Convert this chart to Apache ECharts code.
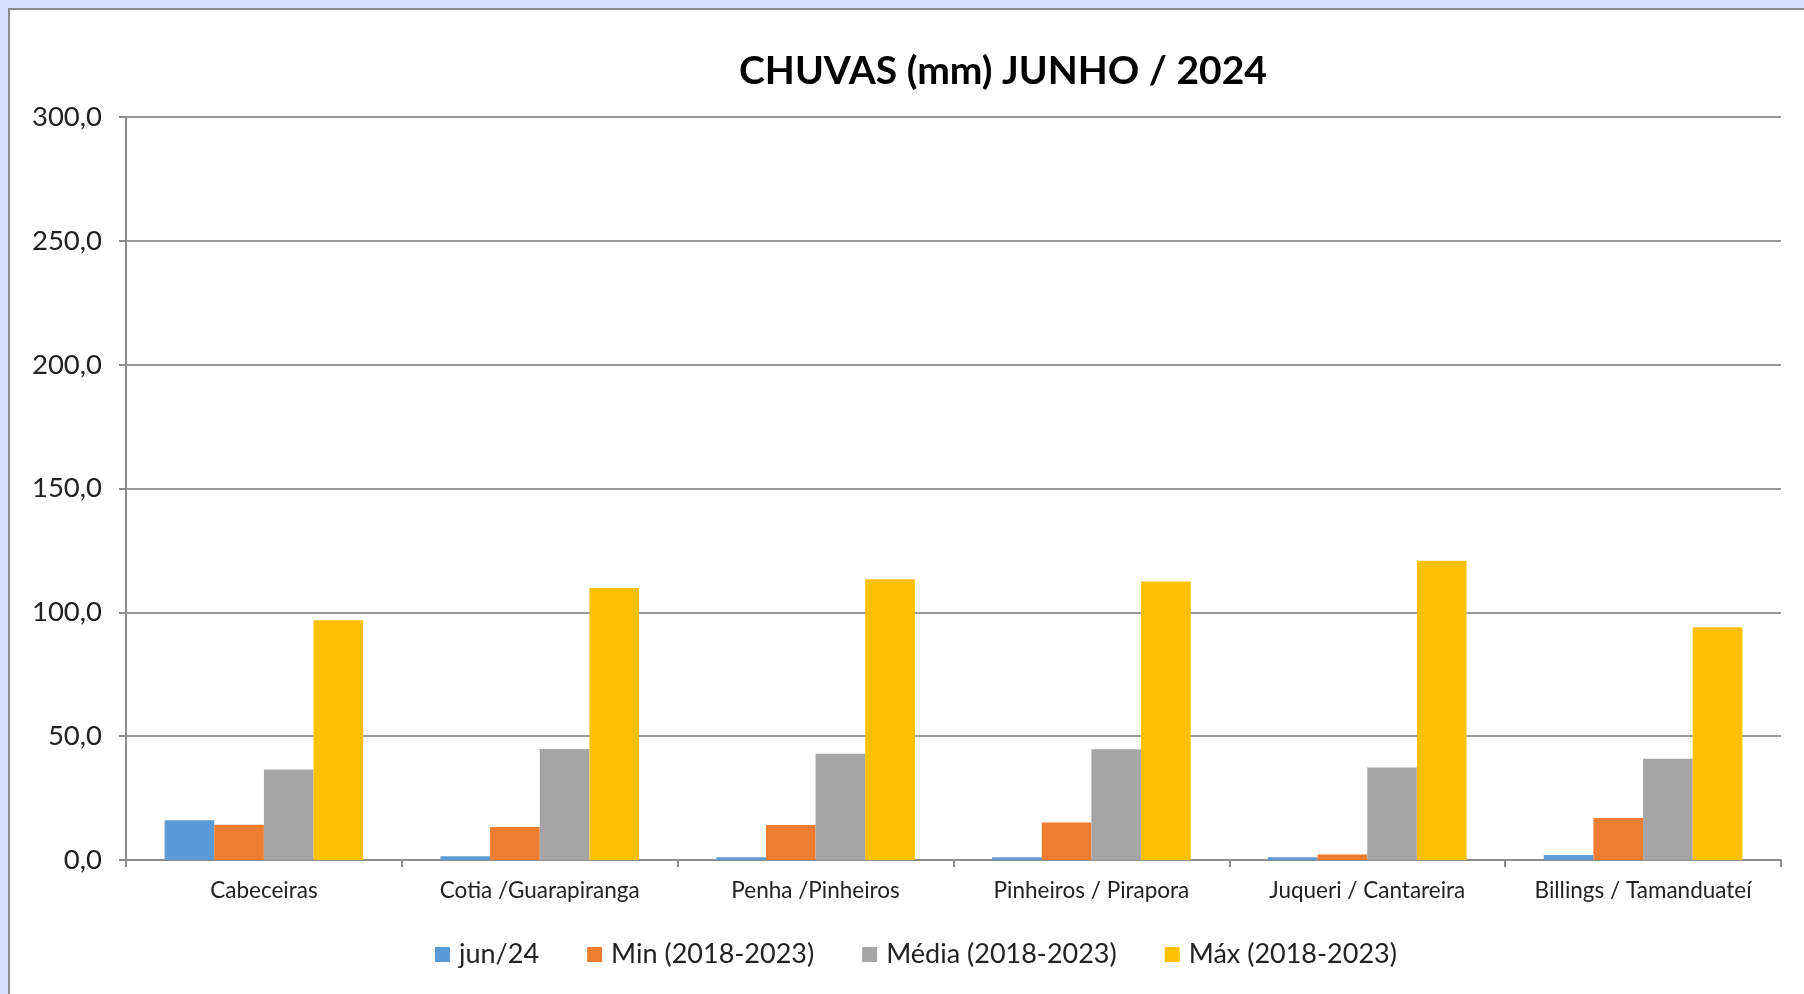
<!DOCTYPE html>
<html>
<head>
<meta charset="utf-8">
<script src="https://cdn.jsdelivr.net/npm/echarts@6/dist/echarts.min.js"></script>
<style>
  html, body { margin: 0; padding: 0; width: 1804px; height: 994px; overflow: hidden; background: #d6dffc; }
  #panel { position: absolute; left: 8px; top: 8px; right: 0; bottom: 0; background: #ffffff; border-left: 2px solid #8c8c8c; border-top: 2px solid #8c8c8c; }
  #chart { position: absolute; left: 0; top: 0; width: 1804px; height: 994px; }
</style>
</head>
<body>
<div id="panel"></div>
<div id="chart"></div>
<script>
const titleText = 'CHUVAS (mm) JUNHO / 2024';
const categories = ['Cabeceiras', 'Cotia /Guarapiranga', 'Penha /Pinheiros', 'Pinheiros / Pirapora', 'Juqueri / Cantareira', 'Billings / Tamanduateí'];
const seriesNames = ['jun/24', 'Min (2018-2023)', 'Média (2018-2023)', 'Máx (2018-2023)'];
const jun24 = [16.1, 1.5, 1.1, 1.1, 1.1, 2.0];
const minVals = [14.2, 13.3, 14.1, 15.1, 2.2, 17.0];
const mediaVals = [36.5, 44.8, 42.9, 44.7, 37.3, 40.9];
const maxVals = [96.8, 109.8, 113.4, 112.5, 120.8, 94.0];
const yMin = 0, yMax = 300, yInterval = 50;
const colors = ['#5b9bd5', '#ed7d31', '#a5a5a5', '#ffc000'];

const allValues = [jun24, minVals, mediaVals, maxVals];
const FONT = 'Lato, "Open Sans", sans-serif';

const chart = echarts.init(document.getElementById('chart'), null, { renderer: 'canvas' });
chart.setOption({
  animation: false,
  backgroundColor: 'transparent',
  color: colors,
  title: {
    text: titleText,
    left: 998,
    textAlign: 'center',
    top: 47,
    textStyle: { fontFamily: FONT, fontWeight: 'bold', fontSize: 39, color: '#000000' }
  },
  legend: {
    data: seriesNames,
    left: 430,
    top: 936,
    icon: 'rect',
    itemWidth: 15,
    itemHeight: 15,
    itemGap: 48,
    textStyle: { fontFamily: FONT, fontSize: 27, color: '#222222', padding: [0, 0, 0, 4] }
  },
  grid: { left: 126, right: 23, top: 117, bottom: 134, containLabel: false },
  xAxis: {
    type: 'category',
    data: categories,
    boundaryGap: true,
    axisLine: { show: true, lineStyle: { color: '#8c8c8c', width: 2 } },
    axisTick: { show: true, length: 7, alignWithLabel: false, lineStyle: { color: '#8c8c8c', width: 2 } },
    axisLabel: { margin: 19, fontFamily: FONT, fontSize: 22.5, color: '#222222', interval: 0 },
    splitLine: { show: false }
  },
  yAxis: {
    type: 'value',
    min: yMin,
    max: yMax,
    interval: yInterval,
    axisLine: { show: true, lineStyle: { color: '#8c8c8c', width: 2 } },
    axisTick: { show: true, length: 7, lineStyle: { color: '#8c8c8c', width: 2 } },
    axisLabel: {
      margin: 24,
      fontFamily: FONT,
      fontSize: 27.5,
      color: '#222222',
      formatter: v => v.toFixed(1).replace('.', ',')
    },
    splitLine: { show: true, lineStyle: { color: '#9a9a9a', width: 2 } }
  },
  series: seriesNames.map((name, i) => ({
    name: name,
    type: 'bar',
    data: allValues[i],
    barGap: '0%',
    barCategoryGap: '28%',
    itemStyle: { color: colors[i] }
  }))
});
</script>
</body>
</html>
